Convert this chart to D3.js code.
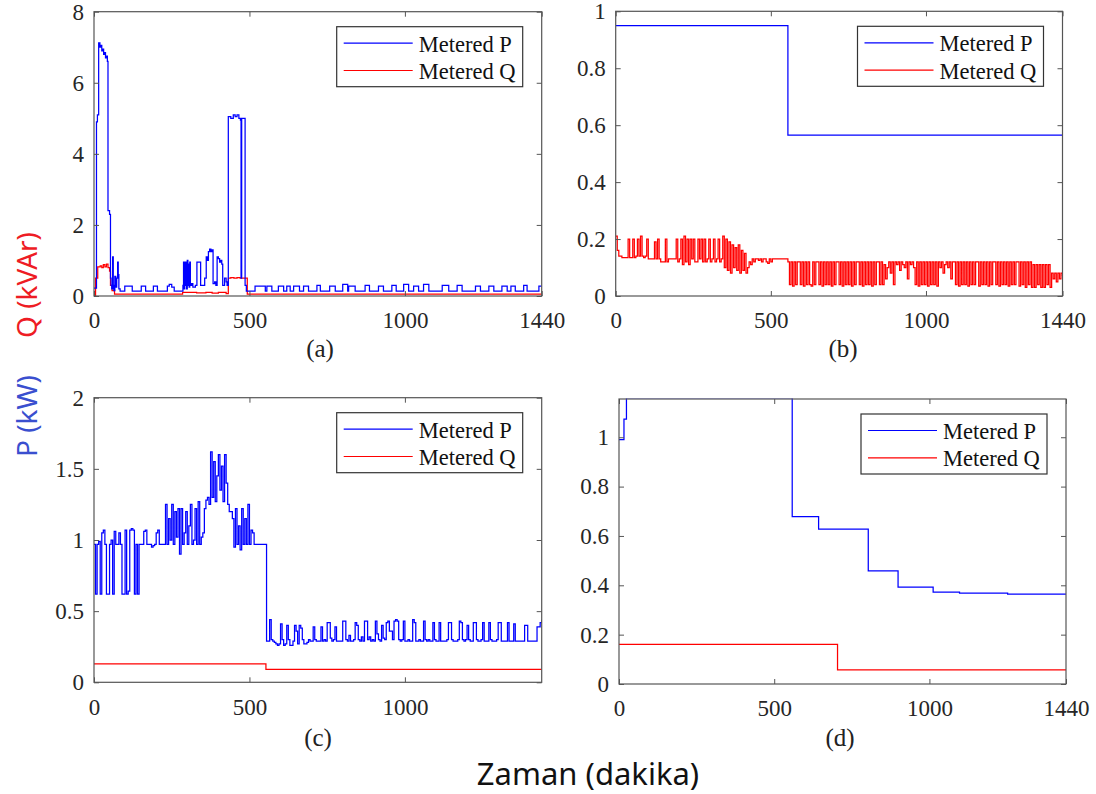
<!DOCTYPE html>
<html><head><meta charset="utf-8">
<script src="https://cdn.jsdelivr.net/npm/d3@7"></script>
<style>body{margin:0;background:#fff}svg{display:block}</style>
</head><body>
<svg id="chart" width="1096" height="794"></svg>
<script>
// ---------------- data ----------------
const xTicksFull = [0, 500, 1000, 1440];
const xTicksC = [0, 500, 1000];
const yTicksA = [0, 2, 4, 6, 8];
const yTicksB = [0, 0.2, 0.4, 0.6, 0.8, 1];
const yTicksC = [0, 0.5, 1, 1.5, 2];
const yTicksD = [0, 0.2, 0.4, 0.6, 0.8, 1];
const yMaxes = [8, 1, 2, 1.155];
const legendLabels = ["Metered P", "Metered Q"];
const panelLabels = ["(a)", "(b)", "(c)", "(d)"];
const xTitle = "Zaman (dakika)";
const yTitleQ = "Q (kVAr)";
const yTitleP = "P (kW)";

// panel (a): [minute, value] step points
const aP = [[0,0.22],[8,4.9],[11,5.1],[15,7.12],[19,7.0],[22,7.05],[25,6.9],[28,6.95],[31,6.8],[34,6.85],[37,6.7],[40,6.75],[43,6.6],[45,2.4],[50,2.3],[53,0.5],[55,0.3],[57,0.2],[60,1.1],[62,0.3],[64,0.15],[67,0.55],[70,0.25],[73,0.5],[76,0.95],[78,0.6],[80,0.2],[84,0.14],[99,0.28],[123,0.14],[152,0.28],[166,0.14],[191,0.28],[204,0.14],[236,0.28],[242,0.33],[250,0.25],[258,0.14],[280,0.14],[286,0.3],[288,0.95],[290,0.2],[292,0.95],[294,0.3],[296,0.95],[298,0.2],[300,1.0],[302,0.3],[304,0.9],[306,0.25],[308,0.95],[310,0.3],[314,0.35],[318,0.25],[326,0.3],[331,0.95],[343,0.3],[350,0.3],[356,0.5],[361,1.1],[364,1.0],[368,1.25],[372,1.32],[376,1.25],[380,1.3],[383,0.35],[388,0.4],[392,0.3],[396,1.1],[400,1.05],[404,0.95],[407,1.0],[411,0.9],[414,0.3],[420,0.5],[425,0.4],[428,0.3],[432,5.05],[440,5.0],[448,5.1],[454,5.05],[460,5.1],[466,5.0],[471,4.95],[473,0.5],[475,5.0],[484,5.0],[486,0.3],[490,0.14],[518,0.28],[551,0.14],[556,0.28],[572,0.14],[593,0.28],[610,0.14],[620,0.28],[631,0.14],[642,0.28],[661,0.14],[674,0.28],[690,0.14],[717,0.3],[728,0.14],[758,0.28],[776,0.14],[800,0.33],[816,0.14],[819,0.28],[840,0.14],[872,0.3],[886,0.14],[915,0.28],[931,0.14],[958,0.3],[972,0.14],[996,0.33],[1012,0.14],[1028,0.28],[1044,0.14],[1060,0.33],[1077,0.14],[1120,0.3],[1141,0.14],[1168,0.3],[1184,0.14],[1227,0.28],[1243,0.14],[1270,0.28],[1286,0.14],[1312,0.28],[1329,0.14],[1341,0.28],[1355,0.14],[1382,0.3],[1393,0.14],[1431,0.28],[1440,0.28]];
const aQ = [[0,0],[5,0.5],[12,0.82],[20,0.85],[25,0.8],[30,0.88],[35,0.82],[40,0.9],[45,0.8],[50,0.7],[53,0.3],[58,0.15],[66,0.05],[280,0.05],[285,0.1],[330,0.09],[360,0.1],[380,0.08],[400,0.1],[425,0.07],[432,0.5],[440,0.52],[450,0.5],[460,0.52],[470,0.5],[493,0.05],[1440,0.05]];

// panel (b)
const bP = [[0,0.95],[555,0.565],[1440,0.565]];
const bQStep = 5; // minutes between samples
const bQ = [0.21,0.16,0.14,0.14,0.135,0.135,0.135,0.135,0.2,0.135,0.135,0.2,0.135,
0.14,0.2,0.14,0.21,0.14,0.135,0.14,0.2,0.13,0.13,0.13,0.13,0.19,
0.13,0.2,0.13,0.12,0.12,0.12,0.2,0.12,0.13,0.13,0.13,0.13,0.13,
0.2,0.12,0.13,0.2,0.11,0.21,0.12,0.2,0.11,0.2,0.13,0.2,0.12,
0.12,0.2,0.13,0.2,0.12,0.2,0.12,0.13,0.2,0.12,0.13,0.2,0.12,
0.13,0.2,0.12,0.13,
0.21,0.1,0.2,0.09,0.19,0.08,0.18,0.1,0.17,0.09,0.18,0.08,0.16,0.09,0.15,0.08,
0.1,0.12,0.11,0.13,0.12,0.13,0.13,0.125,0.13,0.12,0.13,0.13,0.12,0.115,0.13,0.12,0.13,0.13,0.13,0.13,0.13,0.13,0.13,0.13,0.13,0.13,
0.12,0.04,0.12,0.035,0.12,0.04,0.12,0.12,0.04,0.12,
0.035,0.12,0.04,0.12,0.04,0.035,0.12,0.04,0.12,0.12,
0.04,0.12,0.035,0.12,0.04,0.12,0.04,0.12,0.035,0.12,
0.04,0.12,0.12,0.04,0.12,0.035,0.12,0.04,0.12,0.04,
0.12,0.035,0.12,0.04,0.12,0.12,0.04,0.12,0.035,0.12,
0.04,0.12,0.04,0.12,0.035,0.12,0.04,0.12,0.12,0.04,
0.12,0.04,0.11,0.06,0.1,0.12,0.08,0.12,0.04,0.12,
0.11,0.12,0.09,0.12,0.11,0.1,0.12,0.06,0.12,0.11,
0.12,0.1,0.04,0.12,0.035,0.12,0.04,0.12,0.04,0.12,
0.035,0.12,0.04,0.12,0.04,0.12,0.035,0.12,0.1,0.12,
0.08,0.11,0.12,0.1,0.12,0.06,0.12,0.12,0.04,0.12,
0.035,0.12,0.04,0.12,0.04,0.12,0.035,0.12,0.04,0.12,
0.04,0.12,0.12,0.035,0.12,0.04,0.12,0.04,0.12,0.035,
0.12,0.04,0.12,0.12,0.04,0.12,0.035,0.12,0.04,0.12,
0.04,0.12,0.035,0.12,0.04,0.12,0.04,0.12,0.12,0.035,
0.12,0.04,0.12,0.03,0.12,0.04,0.12,0.03,0.11,0.03,
0.11,0.04,0.11,0.03,0.11,0.03,0.11,0.04,0.11,0.03,
0.08,0.06,0.08,0.05,0.08,0.06,0.08,0.07];

// panel (c)
const cPStep = 5;
const cP = [0.97,0.62,0.97,0.99,0.62,1.05,1.07,0.97,0.62,0.62,0.97,1.0,0.62,1.06,0.97,0.97,1.05,0.97,0.62,0.62,1.07,0.62,0.64,1.07,1.08,1.07,0.62,0.97,0.62,0.97,
0.97,0.97,1.06,1.07,0.97,0.97,0.97,0.95,0.96,0.97,1.05,1.07,0.97,0.97,0.97,0.97,
1.25,0.97,1.15,1.0,1.25,0.97,1.2,1.02,1.22,0.9,1.22,0.97,1.05,1.2,0.97,1.1,1.25,0.97,1.0,1.22,0.97,1.27,0.97,1.02,1.05,
1.22,1.28,1.3,1.25,
1.62,1.3,1.55,1.27,1.45,1.6,1.35,1.52,1.27,1.6,1.4,1.25,
1.2,1.2,1.15,
0.95,1.22,0.97,1.1,0.93,1.22,0.97,1.15,0.97,1.25,0.97,1.07,1.05,
0.97,0.97,0.97,0.97,0.97,0.97,
0.97,0.97,0.29,0.29,0.44,0.3,0.29,0.28,0.27,0.26,
0.27,0.41,0.3,0.26,0.27,0.4,0.3,0.26,0.26,0.29,
0.4,0.36,0.27,0.4,0.38,0.3,0.27,0.27,0.28,0.3,
0.29,0.29,0.39,0.3,0.29,0.29,0.29,0.39,0.29,0.3,
0.29,0.42,0.42,0.31,0.29,0.3,0.39,0.29,0.29,0.29,
0.29,0.43,0.43,0.3,0.29,0.33,0.29,0.29,0.3,0.42,
0.4,0.3,0.29,0.32,0.29,0.43,0.43,0.3,0.32,0.29,
0.3,0.29,0.43,0.34,0.3,0.29,0.4,0.31,0.3,0.42,
0.43,0.36,0.36,0.3,0.43,0.44,0.43,0.3,0.29,0.3,
0.43,0.29,0.29,0.3,0.29,0.29,0.44,0.42,0.29,0.29,
0.3,0.29,0.29,0.43,0.3,0.29,0.3,0.29,0.29,0.42,
0.3,0.29,0.29,0.42,0.29,0.29,0.29,0.29,0.3,0.42,
0.42,0.3,0.29,0.29,0.29,0.3,0.43,0.42,0.3,0.29,
0.3,0.4,0.3,0.29,0.29,0.42,0.42,0.3,0.29,0.29,
0.3,0.42,0.29,0.29,0.29,0.42,0.3,0.29,0.29,0.29,
0.3,0.42,0.42,0.29,0.29,0.29,0.29,0.42,0.29,0.29,
0.29,0.41,0.29,0.29,0.29,0.29,0.29,0.29,0.4,0.4,
0.29,0.29,0.29,0.29,0.29,0.29,0.39,0.39,0.42,0.44];
const cQ = [[0,0.13],[553,0.09],[1440,0.09]];

// panel (d)
const dP = [[0,0.99],[16,1.073],[24,1.16],[558,0.678],[643,0.628],[803,0.458],[899,0.393],[1012,0.372],[1097,0.368],[1252,0.364],[1440,0.364]];
const dQ = [[0,0.161],[704,0.057],[1440,0.057]];

// ---------------- layout ----------------
const layout = [
  {x0: 94,    x1: 541.7, y0: 11.7,  y1: 296,   lx: 320, ly: 357},
  {x0: 615.7, x1: 1062.5, y0: 11.3, y1: 296,   lx: 843, ly: 357},
  {x0: 94,    x1: 541.7, y0: 397.7, y1: 682.3, lx: 318, ly: 746},
  {x0: 619,   x1: 1066,  y0: 399,   y1: 684,   lx: 840, ly: 746}
];
const BLUE = "#0000ff", RED = "#ff0000";
const SERIF = "'Liberation Serif','Times New Roman',serif";
const SANS = "'Noto Sans','Open Sans',sans-serif";

const svg = d3.select("#chart");

function stepped(vals, step) { return vals.map((v, i) => [i * step, v]); }

const panels = [
  {P: aP, Q: aQ, xt: xTicksFull, yt: yTicksA},
  {P: bP, Q: stepped(bQ, bQStep), xt: xTicksFull, yt: yTicksB},
  {P: stepped(cP, cPStep), Q: cQ, xt: xTicksC, yt: yTicksC},
  {P: dP, Q: dQ, xt: xTicksFull, yt: yTicksD}
];

panels.forEach((pd, k) => {
  const L = layout[k];
  const g = svg.append("g");
  const x = d3.scaleLinear().domain([0, 1440]).range([L.x0, L.x1]);
  const y = d3.scaleLinear().domain([0, yMaxes[k]]).range([L.y1, L.y0]);
  const fmt = d => String(d);

  const clipId = "clip" + k;
  svg.append("clipPath").attr("id", clipId).append("rect")
    .attr("x", L.x0).attr("y", L.y0 - 0.5).attr("width", L.x1 - L.x0).attr("height", L.y1 - L.y0 + 0.5);

  const line = d3.line().x(d => x(d[0])).y(d => y(d[1])).curve(d3.curveStepAfter);

  g.append("g").attr("clip-path", `url(#${clipId})`).selectAll("path")
    .data([{d: pd.Q, c: RED}, {d: pd.P, c: BLUE}])
    .join("path")
    .attr("d", s => line(s.d))
    .attr("fill", "none").attr("stroke", s => s.c).attr("stroke-width", 1.25)
    .attr("stroke-linejoin", "miter");

  const styleAxis = sel => {
    sel.select(".domain").remove();
    sel.selectAll(".tick line").attr("stroke", "#555").attr("stroke-width", 1);
    sel.selectAll("text").attr("font-family", SERIF).attr("font-size", 23).attr("fill", "#262626");
  };

  g.append("g").attr("transform", `translate(0,${L.y1})`)
    .call(d3.axisBottom(x).tickValues(pd.xt).tickFormat(fmt).tickSizeInner(-5).tickSizeOuter(0).tickPadding(16))
    .call(styleAxis);
  g.append("g").attr("transform", `translate(0,${L.y0})`)
    .call(d3.axisTop(x).tickValues(pd.xt).tickFormat("").tickSizeInner(-5).tickSizeOuter(0))
    .call(styleAxis);
  g.append("g").attr("transform", `translate(${L.x0},0)`)
    .call(d3.axisLeft(y).tickValues(pd.yt).tickFormat(fmt).tickSizeInner(-5).tickSizeOuter(0).tickPadding(10))
    .call(styleAxis);
  g.append("g").attr("transform", `translate(${L.x1},0)`)
    .call(d3.axisRight(y).tickValues(pd.yt).tickFormat("").tickSizeInner(-5).tickSizeOuter(0))
    .call(styleAxis);

  g.append("rect").attr("x", L.x0).attr("y", L.y0).attr("width", L.x1 - L.x0).attr("height", L.y1 - L.y0)
    .attr("fill", "none").attr("stroke", "#555").attr("stroke-width", 1.2);

  // legend
  const bw = 186, bh = 60;
  const bx = L.x1 - 19 - bw, by = L.y0 + 15;
  const lg = g.append("g");
  lg.append("rect").attr("x", bx).attr("y", by).attr("width", bw).attr("height", bh)
    .attr("fill", "#fff").attr("stroke", "#333").attr("stroke-width", 1.2);
  legendLabels.forEach((t, i) => {
    const yy = by + 16.5 + i * 27.3;
    lg.append("line").attr("x1", bx + 7).attr("x2", bx + 76).attr("y1", yy).attr("y2", yy)
      .attr("stroke", i === 0 ? BLUE : RED).attr("stroke-width", 1.2);
    lg.append("text").attr("x", bx + 82).attr("y", yy + 8.5).text(t)
      .attr("font-family", SERIF).attr("font-size", 22.5).attr("fill", "#111");
  });

  g.append("text").attr("x", L.lx).attr("y", L.ly).attr("text-anchor", "middle")
    .attr("font-family", SERIF).attr("font-size", 25).attr("fill", "#222").text(panelLabels[k]);
});

// global titles
svg.append("text").attr("x", 588).attr("y", 785).attr("text-anchor", "middle")
  .attr("font-family", SANS).attr("font-size", 31).attr("fill", "#111").text(xTitle);
svg.append("text").attr("transform", "translate(26,285) rotate(-90)").attr("text-anchor", "middle")
  .attr("dominant-baseline", "central")
  .attr("font-family", SANS).attr("font-size", 28).attr("fill", "#ee1c24").text(yTitleQ);
svg.append("text").attr("transform", "translate(26,416) rotate(-90)").attr("text-anchor", "middle")
  .attr("dominant-baseline", "central")
  .attr("font-family", SANS).attr("font-size", 28).attr("fill", "#3a4fcf").text(yTitleP);
</script>
</body></html>
